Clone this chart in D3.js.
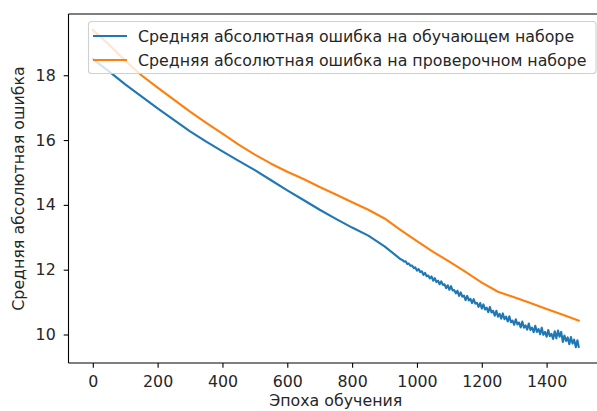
<!DOCTYPE html>
<html>
<head>
<meta charset="utf-8">
<script src="https://cdn.jsdelivr.net/npm/d3@7"></script>
<style>
  html, body { margin: 0; padding: 0; background: #fff; }
  svg { display: block; }
  text { font-family: "DejaVu Sans", sans-serif; fill: #262626; }
</style>
</head>
<body>
<svg id="chart" width="597" height="411"></svg>
<script>
// ---- data ----
const seriesNames = [
  "Средняя абсолютная ошибка на обучающем наборе",
  "Средняя абсолютная ошибка на проверочном наборе"
];
const xLabel = "Эпоха обучения";
const yLabel = "Средняя абсолютная ошибка";
const xTicks = [0, 200, 400, 600, 800, 1000, 1200, 1400];
const yTicks = [10, 12, 14, 16, 18];

// training MAE: smooth part (every 50 epochs)
const trainEpochsSmooth = [0, 50, 100, 150, 200, 250, 300, 350, 400, 450, 500, 550, 600, 650, 700, 750, 800, 850, 900];
const trainValuesSmooth = [18.50, 18.12, 17.72, 17.35, 16.98, 16.62, 16.27, 15.95, 15.65, 15.36, 15.07, 14.76, 14.45, 14.15, 13.85, 13.57, 13.30, 13.05, 12.72];
// training MAE: noisy part (every 5 epochs from 950, last epoch 1499)
const trainEpochsNoisy = d3.range(950, 1500, 5).concat([1499]);
const trainValuesNoisy = [
  12.32, 12.30, 12.25, 12.26, 12.18, 12.19, 12.12, 12.13, 12.05, 12.07,
  11.97, 12.02, 11.93, 11.95, 11.84, 11.90, 11.80, 11.82, 11.73, 11.79,
  11.66, 11.74, 11.62, 11.66, 11.55, 11.64, 11.53, 11.55, 11.43, 11.52,
  11.38, 11.49, 11.36, 11.37, 11.27, 11.35, 11.19, 11.30, 11.17, 11.20,
  11.06, 11.19, 11.05, 11.10, 10.97, 11.09, 10.95, 10.98, 10.85, 10.97,
  10.80, 10.93, 10.77, 10.83, 10.69, 10.85, 10.68, 10.73, 10.58, 10.73,
  10.55, 10.64, 10.49, 10.65, 10.47, 10.55, 10.40, 10.56, 10.38, 10.43,
  10.30, 10.47, 10.31, 10.37, 10.22, 10.40, 10.21, 10.28, 10.15, 10.34,
  10.14, 10.21, 10.07, 10.27, 10.08, 10.17, 10.01, 10.21, 9.99, 10.08,
  9.93, 10.14, 9.95, 10.02, 9.86, 10.10, 9.88, 10.12, 9.93, 10.08,
  9.77, 9.97, 9.80, 9.91, 9.70, 9.92, 9.72, 9.84, 9.61, 9.82, 9.62
];

// validation MAE (every 50 epochs, last at 1499)
const valEpochs = [0, 50, 100, 150, 200, 250, 300, 350, 400, 450, 500, 550, 600, 650, 700, 750, 800, 850, 900, 950, 1000, 1050, 1100, 1150, 1200, 1250, 1300, 1350, 1400, 1450, 1499];
const valValues = [19.40, 18.95, 18.45, 18.00, 17.62, 17.25, 16.88, 16.53, 16.20, 15.86, 15.55, 15.27, 15.02, 14.80, 14.55, 14.32, 14.08, 13.85, 13.58, 13.22, 12.88, 12.55, 12.25, 11.93, 11.60, 11.32, 11.15, 10.97, 10.79, 10.61, 10.43];

const colors = ["#1f77b4", "#ff7f0e"];

// ---- build ----
const train = trainEpochsSmooth.map((e, i) => ({e, v: trainValuesSmooth[i]}))
  .concat(trainEpochsNoisy.map((e, i) => ({e, v: trainValuesNoisy[i]})));
const val = valEpochs.map((e, i) => ({e, v: valValues[i]}));

const svg = d3.select("#chart");
const L = 68.5, R = 603, T = 14, B = 363;

const allE = train.map(d => d.e).concat(val.map(d => d.e));
const allV = train.map(d => d.v).concat(val.map(d => d.v));
const [eMin, eMax] = d3.extent(allE);
const [vMin, vMax] = d3.extent(allV);
const ePad = (eMax - eMin) * 0.05, vPad = (vMax - vMin) * 0.05;

const x = d3.scaleLinear().domain([eMin - ePad, eMax + ePad]).range([L, R]);
const y = d3.scaleLinear().domain([vMin - vPad, vMax + vPad]).range([B, T]);

svg.append("rect").attr("width", 597).attr("height", 411).attr("fill", "#fff");

const line = d3.line().x(d => x(d.e)).y(d => y(d.v));

svg.append("path").datum(train)
  .attr("d", line).attr("fill", "none").attr("stroke", colors[0])
  .attr("stroke-width", 2.1).attr("stroke-linejoin", "round").attr("stroke-linecap", "square");
svg.append("path").datum(val)
  .attr("d", line).attr("fill", "none").attr("stroke", colors[1])
  .attr("stroke-width", 2.1).attr("stroke-linejoin", "round").attr("stroke-linecap", "square");

// axes
const fs = 15.8;
const xAxis = d3.axisBottom(x).tickValues(xTicks).tickFormat(d3.format("d")).tickSize(4.8).tickPadding(7.5);
const gx = svg.append("g").attr("transform", `translate(0,${B})`).call(xAxis);
const yAxis = d3.axisLeft(y).tickValues(yTicks).tickFormat(d3.format("d")).tickSize(4.8).tickPadding(8);
const gy = svg.append("g").attr("transform", `translate(${L},0)`).call(yAxis);
[gx, gy].forEach(g => {
  g.select(".domain").remove();
  g.selectAll(".tick line").attr("stroke", "#000").attr("stroke-width", 1.1);
  g.selectAll(".tick text").attr("font-family", "DejaVu Sans").attr("font-size", fs).attr("fill", "#262626");
});

// spines: left, bottom, top, right
svg.append("line").attr("x1", L).attr("x2", L).attr("y1", T).attr("y2", B).attr("stroke", "#000").attr("stroke-width", 1.1);
svg.append("line").attr("x1", L).attr("x2", R).attr("y1", B).attr("y2", B).attr("stroke", "#000").attr("stroke-width", 1.1);
svg.append("line").attr("x1", L).attr("x2", R).attr("y1", T).attr("y2", T).attr("stroke", "#000").attr("stroke-width", 1.1);
svg.append("line").attr("x1", R).attr("x2", R).attr("y1", T).attr("y2", B).attr("stroke", "#000").attr("stroke-width", 1.1);

// axis labels
svg.append("text").attr("x", (L + R) / 2).attr("y", 406)
  .attr("text-anchor", "middle").attr("font-size", fs).text(xLabel);
svg.append("text").attr("transform", `translate(24,${(T + B) / 2}) rotate(-90)`)
  .attr("text-anchor", "middle").attr("font-size", fs).text(yLabel);

// legend
const lg = svg.append("g");
lg.append("rect").attr("x", 88.5).attr("y", 21.5).attr("width", 507.5).attr("height", 52)
  .attr("rx", 3).attr("fill", "#fff").attr("fill-opacity", 0.8)
  .attr("stroke", "#d0d0d0").attr("stroke-width", 1.1);
seriesNames.forEach((name, i) => {
  const cy = 36 + i * 24;
  lg.append("line").attr("x1", 93).attr("x2", 127).attr("y1", cy).attr("y2", cy)
    .attr("stroke", colors[i]).attr("stroke-width", 2.1);
  lg.append("text").attr("x", 138).attr("y", cy).attr("dy", "0.36em")
    .attr("font-size", fs).text(name);
});
</script>
</body>
</html>
